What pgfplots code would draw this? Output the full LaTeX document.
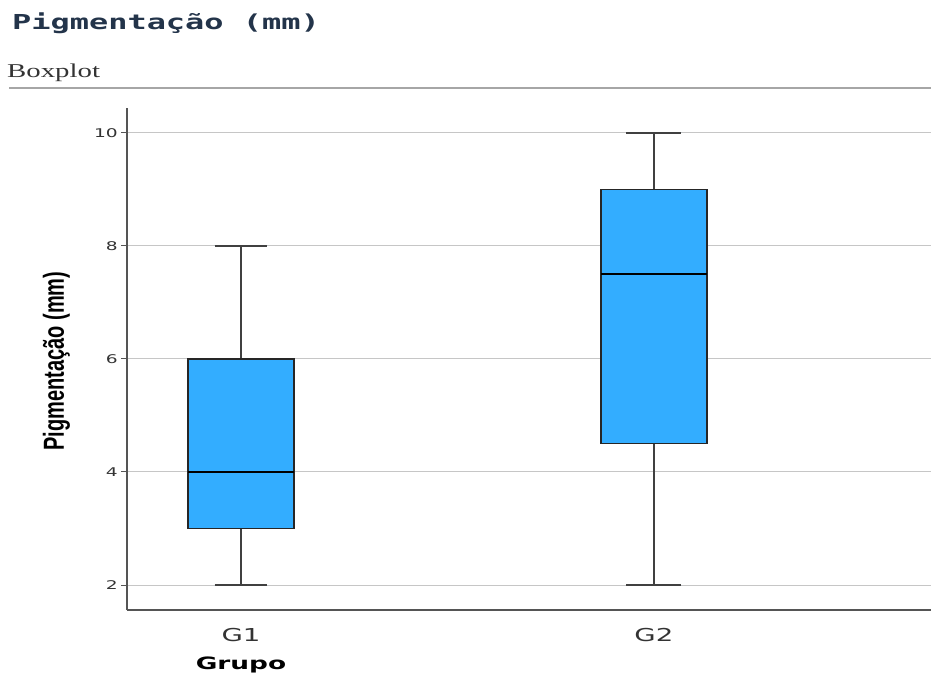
\documentclass[border=0pt]{standalone}
\usepackage{pgfplots}
\pgfplotsset{compat=1.18}
\usepgfplotslibrary{statistics}
\usepackage{fontspec}
\setmainfont{DejaVu Sans}
\newfontfamily\titlefont{DejaVu Sans Mono}
\newfontfamily\seriffont{Liberation Serif}
\newfontfamily\labelfont{Liberation Sans}
\definecolor{boxblue}{HTML}{33ADFF}
\definecolor{titlenavy}{HTML}{23344A}
\definecolor{txtgray}{HTML}{333333}
\definecolor{axgray}{HTML}{555555}
\newcommand{\stretchx}[1]{\scalebox{1.55}[1]{#1}}
\begin{document}
\begin{tikzpicture}
\node[anchor=base west, inner sep=0pt, text=titlenavy] at (12pt,645pt)
  {\titlefont\bfseries\fontsize{20.6}{24}\selectfont\stretchx{Pigmentação (mm)}};
\node[anchor=base west, inner sep=0pt, text=txtgray] at (7pt,597pt)
  {\seriffont\fontsize{19.6}{22}\selectfont\scalebox{1.47}[1]{Boxplot}};
\draw[color=gray!70, line width=1.2pt] (9pt,587pt) -- (931pt,587pt);
\begin{axis}[
  at={(127pt,65pt)}, anchor=south west,
  scale only axis, width=804pt, height=502pt,
  xmin=0.724, xmax=2.671, ymin=1.558, ymax=10.44,
  axis x line=bottom, axis y line=left,
  axis line style={-, draw=axgray, line width=1.6pt},
  ytick={2,4,6,8,10},
  yticklabels={\stretchx{2},\stretchx{4},\stretchx{6},\stretchx{8},\stretchx{10}},
  yticklabel style={font=\fontsize{12}{14}\selectfont, text=txtgray, inner sep=0pt, anchor=east, xshift=-3pt},
  ytick style={draw=axgray, line width=1pt},
  tick align=outside, major tick length=6pt,
  xtick={1,2}, xticklabels={\stretchx{G1},\stretchx{G2}},
  xticklabel style={font=\fontsize{17.8}{20}\selectfont, text=txtgray, inner sep=0pt, anchor=north, yshift=-12pt},
  xtick style={draw=none},
  ymajorgrids, major grid style={draw=gray!45, line width=1pt},
  boxplot/draw direction=y,
  boxplot/every box/.style={draw=black!85, fill=boxblue, line width=1.3pt},
  boxplot/every median/.style={draw=black, line width=2.2pt},
  boxplot/every whisker/.style={draw=black!75, line width=1.4pt},
]
\addplot+[boxplot prepared={draw position=1, lower whisker=2, lower quartile=3, median=4, upper quartile=6, upper whisker=8, box extend=0.257, whisker extend=0.128}, black!80, solid, fill=boxblue, mark=none] coordinates {};
\addplot+[boxplot prepared={draw position=2, lower whisker=2, lower quartile=4.5, median=7.5, upper quartile=9, upper whisker=10, box extend=0.257, whisker extend=0.133}, black!80, solid, fill=boxblue, mark=none] coordinates {};
\end{axis}
\node[rotate=90, inner sep=0pt, anchor=center] at (56.5pt,314pt)
  {\labelfont\bfseries\fontsize{20}{22}\selectfont\scalebox{1}[1.45]{Pigmentação (mm)}};
\node[anchor=north, inner sep=0pt, text=black] at (241pt,18pt)
  {\bfseries\fontsize{17}{19}\selectfont\stretchx{Grupo}};
\pgfresetboundingbox
\path (0pt,0pt) rectangle (931pt,675pt);
\end{tikzpicture}
\end{document}
